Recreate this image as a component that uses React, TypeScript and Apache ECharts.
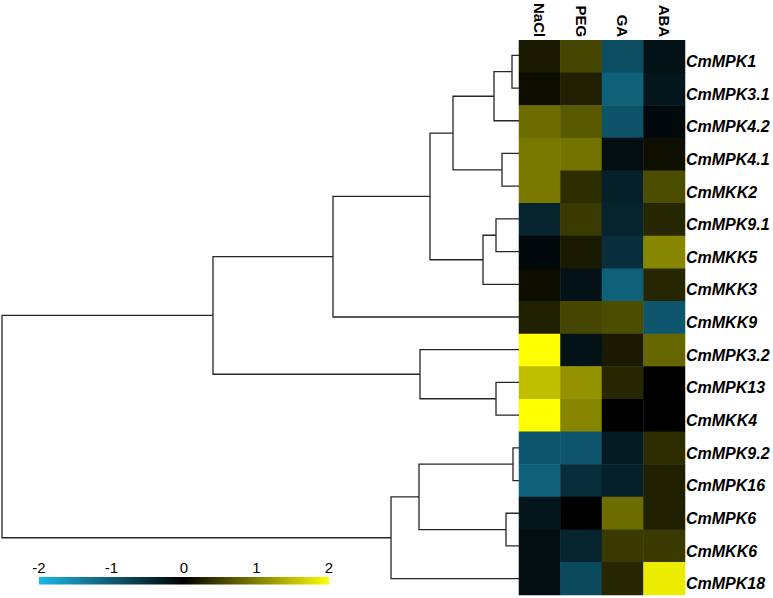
import React, { useEffect, useRef } from "react";
import * as echarts from "echarts";

const genes = [
  "CmMPK1", "CmMPK3.1", "CmMPK4.2", "CmMPK4.1", "CmMKK2", "CmMPK9.1", "CmMKK5", "CmMKK3",
  "CmMKK9", "CmMPK3.2", "CmMPK13", "CmMKK4", "CmMPK9.2", "CmMPK16", "CmMPK6", "CmMKK6", "CmMPK18",
];
const conditions = ["NaCl", "PEG", "GA", "ABA"];

const naclValues = [0.2, 0.1, 0.85, 0.95, 0.95, -0.4, -0.1, 0.1, 0.25, 2.0, 1.5, 2.0, -0.95, -1.05, -0.25, -0.15, -0.15];
const pegValues = [0.55, 0.25, 0.7, 0.9, 0.35, 0.45, 0.2, -0.2, 0.55, -0.2, 1.15, 1.05, -0.95, -0.5, 0.0, -0.4, -0.8];
const gaValues = [-0.85, -1.05, -0.9, -0.15, -0.35, -0.4, -0.5, -1.05, 0.6, 0.2, 0.3, 0.0, -0.3, -0.35, 0.85, 0.45, 0.3];
const abaValues = [-0.2, -0.25, -0.1, 0.12, 0.6, 0.3, 1.05, 0.3, -0.95, 0.8, 0.0, 0.0, 0.35, 0.25, 0.25, 0.45, 1.85];

// Hierarchical clustering merges: [nodeA, nodeB, distance]; leaves are 0..16, merged nodes 17..
const merges: [number, number, number][] = [
  [0, 1, 0.28],
  [17, 2, 1.0],
  [3, 4, 0.68],
  [18, 19, 2.64],
  [5, 6, 0.92],
  [21, 7, 1.44],
  [20, 22, 3.56],
  [23, 8, 7.44],
  [10, 11, 0.92],
  [9, 25, 3.96],
  [24, 26, 12.24],
  [12, 13, 0.24],
  [14, 15, 0.52],
  [28, 29, 4.0],
  [30, 16, 5.12],
  [27, 31, 20.68],
];

const scaleTicks = [-2, -1, 0, 1, 2];
const scaleColors = ["#1cb6e6", "#000000", "#ffff00"];

const FONT = "Liberation Sans, Arial, sans-serif";

export default function App() {
  const ref = useRef<HTMLDivElement>(null);
  useEffect(() => {
    if (!ref.current) return;
    const chart = echarts.init(ref.current, null, { renderer: "svg" });

    const valueCols = [naclValues, pegValues, gaValues, abaValues];
    const heatData: number[][] = [];
    valueCols.forEach((col, ci) => col.forEach((v, ri) => heatData.push([ci, ri, v])));

    const nodeY: number[] = genes.map((_, i) => i);
    const nodeD: number[] = genes.map(() => 0);
    const dendroData: number[][] = [];
    merges.forEach(([a, b, d]) => {
      dendroData.push([d, nodeY[a], nodeY[b], nodeD[a], nodeD[b]]);
      nodeY.push((nodeY[a] + nodeY[b]) / 2);
      nodeD.push(d);
    });
    const maxD = Math.max(...merges.map((m) => m[2]));

    const option: any = {
      animation: false,
      backgroundColor: "#ffffff",
      textStyle: { fontFamily: FONT },
      grid: [
        { left: 519, top: 39, width: 166, height: 556 },
        { left: 2, top: 39, width: 517, height: 556 },
        { left: 39, top: 577, width: 290, height: 7.5 },
      ],
      xAxis: [
        {
          type: "category",
          gridIndex: 0,
          data: conditions,
          position: "top",
          axisLine: { show: false },
          axisTick: { show: false },
          axisLabel: {
            rotate: 90,
            margin: 3,
            fontSize: 15,
            fontWeight: "bold",
            color: "#000",
            fontFamily: FONT,
          },
        },
        {
          type: "value",
          gridIndex: 1,
          min: 0,
          max: maxD,
          inverse: true,
          show: false,
        },
        {
          type: "value",
          gridIndex: 2,
          min: -2,
          max: 2,
          interval: 1,
          position: "top",
          axisLine: { show: false },
          axisTick: { show: false },
          splitLine: { show: false },
          axisLabel: { margin: 2, fontSize: 15, color: "#000", fontFamily: FONT },
        },
      ],
      yAxis: [
        {
          type: "category",
          gridIndex: 0,
          data: genes,
          inverse: true,
          position: "right",
          axisLine: { show: false },
          axisTick: { show: false },
          axisLabel: {
            margin: 1,
            fontSize: 16,
            fontWeight: "bold",
            fontStyle: "italic",
            color: "#000",
            fontFamily: FONT,
            verticalAlign: "top",
            lineHeight: 10,
          },
        },
        {
          type: "value",
          gridIndex: 1,
          min: -0.5,
          max: genes.length - 0.5,
          inverse: true,
          show: false,
        },
        { type: "value", gridIndex: 2, min: 0, max: 1, show: false },
      ],
      visualMap: {
        type: "continuous",
        min: -2,
        max: 2,
        show: false,
        seriesIndex: 0,
        inRange: { color: scaleColors },
      },
      series: [
        {
          type: "heatmap",
          xAxisIndex: 0,
          yAxisIndex: 0,
          data: heatData,
          itemStyle: { borderWidth: 0 },
          emphasis: { disabled: true },
        },
        {
          type: "custom",
          xAxisIndex: 1,
          yAxisIndex: 1,
          clip: false,
          data: dendroData,
          renderItem: (params: any, api: any) => {
            const d = api.value(0);
            const ya = api.value(1);
            const yb = api.value(2);
            const da = api.value(3);
            const db = api.value(4);
            const p1 = api.coord([da, ya]);
            const p2 = api.coord([d, ya]);
            const p3 = api.coord([d, yb]);
            const p4 = api.coord([db, yb]);
            return {
              type: "polyline",
              shape: { points: [p1, p2, p3, p4] },
              style: { stroke: "#262626", lineWidth: 1.3, fill: null },
            };
          },
        },
        {
          type: "custom",
          xAxisIndex: 2,
          yAxisIndex: 2,
          clip: false,
          data: [[scaleTicks[0], scaleTicks[scaleTicks.length - 1]]],
          renderItem: (params: any, api: any) => {
            const a = api.coord([api.value(0), 1]);
            const b = api.coord([api.value(1), 0]);
            return {
              type: "rect",
              shape: { x: a[0], y: a[1], width: b[0] - a[0], height: b[1] - a[1] },
              style: {
                fill: new echarts.graphic.LinearGradient(0, 0, 1, 0, [
                  { offset: 0, color: scaleColors[0] },
                  { offset: 0.5, color: scaleColors[1] },
                  { offset: 1, color: scaleColors[2] },
                ]),
              },
            };
          },
        },
      ],
    };
    chart.setOption(option);
    return () => chart.dispose();
  }, []);
  return (
    <div
      ref={ref}
      style={{ position: "fixed", left: 0, top: 0, width: 773, height: 598, background: "#fff" }}
    />
  );
}
